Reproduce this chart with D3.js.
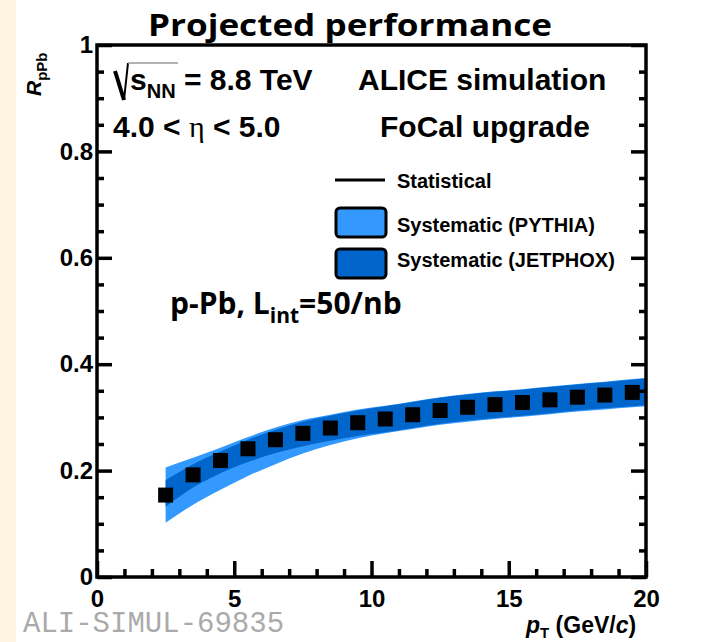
<!DOCTYPE html>
<html>
<head>
<meta charset="utf-8">
<script src="https://cdn.jsdelivr.net/npm/d3@7"></script>
<style>
  body { margin: 0; background: #fff; }
  svg { display: block; }
  .tick text { font-family: "Liberation Sans", Arial, sans-serif; font-weight: bold; font-size: 24px; fill: #000; }
  .tick line { stroke: #000; stroke-width: 3.5; }
</style>
</head>
<body>
<svg width="702" height="642"></svg>
<script>
// values
var ptBins = [2.5, 3.5, 4.5, 5.5, 6.5, 7.5, 8.5, 9.5, 10.5, 11.5, 12.5, 13.5, 14.5, 15.5, 16.5, 17.5, 18.5, 19.5];
var rpPb = [0.154, 0.192, 0.219, 0.241, 0.258, 0.270, 0.280, 0.290, 0.297, 0.305, 0.313, 0.319, 0.324, 0.328, 0.333, 0.338, 0.342, 0.347];

// systematic bands (band runs on to the edge of the plot at 20)
var bandPt = [2.5, 3.5, 4.5, 5.5, 6.5, 7.5, 8.5, 9.5, 10.5, 11.5, 12.5, 13.5, 14.5, 15.5, 16.5, 17.5, 18.5, 19.5, 20];
var pythiaLow  = [0.102, 0.136, 0.164, 0.190, 0.212, 0.232, 0.248, 0.261, 0.270, 0.278, 0.286, 0.292, 0.297, 0.301, 0.306, 0.311, 0.315, 0.319, 0.321];
var pythiaHigh = [0.206, 0.224, 0.243, 0.263, 0.281, 0.295, 0.305, 0.315, 0.322, 0.330, 0.338, 0.344, 0.349, 0.353, 0.358, 0.363, 0.367, 0.372, 0.374];
var jetphoxLow  = [0.132, 0.168, 0.195, 0.216, 0.233, 0.246, 0.256, 0.265, 0.272, 0.280, 0.288, 0.294, 0.299, 0.303, 0.308, 0.313, 0.317, 0.321, 0.323];
var jetphoxHigh = [0.182, 0.212, 0.236, 0.258, 0.277, 0.292, 0.303, 0.313, 0.321, 0.329, 0.337, 0.343, 0.348, 0.352, 0.357, 0.362, 0.366, 0.371, 0.373];

var xMajor = [0, 5, 10, 15, 20];
var yMajor = [0, 0.2, 0.4, 0.6, 0.8, 1];

var legendItems = ['Statistical', 'Systematic (PYTHIA)', 'Systematic (JETPHOX)'];

var width = 702;
var height = 642;
var plotLeft = 97, plotRight = 646, plotTop = 45, plotBottom = 577;
var helv = '"Liberation Sans", Arial, sans-serif';

var xScale = d3.scaleLinear().domain([0, 20]).range([plotLeft, plotRight]);
var yScale = d3.scaleLinear().domain([0, 1]).range([plotBottom, plotTop]);

var svg = d3.select('svg');

// beige strip on the left of the slide
svg.append('rect')
  .attr('x', 0).attr('y', 0)
  .attr('width', 16).attr('height', height)
  .attr('fill', '#fdf5e1');

// bands
var pythiaArea = d3.area()
  .x((d, i) => xScale(bandPt[i]))
  .y0((d, i) => yScale(pythiaLow[i]))
  .y1((d, i) => yScale(pythiaHigh[i]))
  .curve(d3.curveMonotoneX);

var jetphoxArea = d3.area()
  .x((d, i) => xScale(bandPt[i]))
  .y0((d, i) => yScale(jetphoxLow[i]))
  .y1((d, i) => yScale(jetphoxHigh[i]))
  .curve(d3.curveMonotoneX);

svg.append('path')
  .attr('d', pythiaArea(bandPt))
  .attr('fill', '#3399ff');

svg.append('path')
  .attr('d', jetphoxArea(bandPt))
  .attr('fill', '#0066cc');

// points
svg.append('g')
  .selectAll('rect')
  .data(ptBins)
  .enter()
  .append('rect')
    .attr('x', (d) => xScale(d) - 7.5)
    .attr('y', (d, i) => yScale(rpPb[i]) - 7.5)
    .attr('width', 15)
    .attr('height', 15)
    .attr('fill', '#000');

// axes (ticks pointing inward)
var xMinor = d3.range(0, 21, 1).filter(d => xMajor.indexOf(d) < 0);
var yMinor = d3.range(0, 1.0001, 0.05).map(d => +d.toFixed(2)).filter(d => yMajor.indexOf(d) < 0);

svg.append('g')
  .attr('transform', 'translate(0,' + plotBottom + ')')
  .call(d3.axisBottom(xScale).tickValues(xMajor).tickSize(-16).tickPadding(13).tickFormat(d3.format('d')));
svg.append('g')
  .attr('transform', 'translate(0,' + plotBottom + ')')
  .call(d3.axisBottom(xScale).tickValues(xMinor).tickSize(-8).tickFormat(''));

svg.append('g')
  .attr('transform', 'translate(' + plotLeft + ',0)')
  .call(d3.axisLeft(yScale).tickValues(yMajor).tickSize(-15).tickPadding(4).tickFormat(d3.format('')));
svg.append('g')
  .attr('transform', 'translate(' + plotLeft + ',0)')
  .call(d3.axisLeft(yScale).tickValues(yMinor).tickSize(-7).tickFormat(''));

svg.append('g')
  .attr('transform', 'translate(' + plotRight + ',0)')
  .call(d3.axisRight(yScale).tickValues(yMajor).tickSize(-15).tickFormat(''));
svg.append('g')
  .attr('transform', 'translate(' + plotRight + ',0)')
  .call(d3.axisRight(yScale).tickValues(yMinor).tickSize(-7).tickFormat(''));

svg.selectAll('.domain').remove();

svg.append('rect')
  .attr('x', plotLeft).attr('y', plotTop)
  .attr('width', plotRight - plotLeft).attr('height', plotBottom - plotTop)
  .attr('fill', 'none')
  .attr('stroke', '#000')
  .attr('stroke-width', 3.5);

// title
svg.append('text')
  .attr('x', 350)
  .attr('y', 36)
  .attr('text-anchor', 'middle')
  .style('font-family', '"Open Sans", sans-serif')
  .style('font-weight', 'bold')
  .style('font-size', '31px')
  .attr('textLength', 404)
  .attr('lengthAdjust', 'spacingAndGlyphs')
  .text('Projected performance');

// sqrt(s_NN) label
svg.append('path')
  .attr('d', 'M115,71 L124,100')
  .attr('stroke', '#000').attr('stroke-width', 4).attr('fill', 'none');
svg.append('path')
  .attr('d', 'M124,100 L128,63')
  .attr('stroke', '#000').attr('stroke-width', 2).attr('fill', 'none');
svg.append('path')
  .attr('d', 'M128,63 L178,63')
  .attr('stroke', '#999').attr('stroke-width', 1.5).attr('fill', 'none');

var t1 = svg.append('text')
  .attr('x', 130).attr('y', 90)
  .style('font-family', helv).style('font-weight', 'bold').style('font-size', '30px');
t1.append('tspan').text('s');
t1.append('tspan').attr('dy', 8).style('font-size', '20px').text('NN');
t1.append('tspan').attr('dy', -8).text(' = 8.8 TeV');

svg.append('text')
  .attr('x', 358).attr('y', 90)
  .style('font-family', helv).style('font-weight', 'bold').style('font-size', '30px')
  .text('ALICE simulation');

var t2 = svg.append('text')
  .attr('x', 113).attr('y', 137)
  .style('font-family', helv).style('font-weight', 'bold').style('font-size', '30px');
t2.append('tspan').text('4.0 < ');
t2.append('tspan').style('font-family', '"Liberation Serif", serif').style('font-weight', 'normal').text('η');
t2.append('tspan').text(' < 5.0');

svg.append('text')
  .attr('x', 380).attr('y', 137)
  .style('font-family', helv).style('font-weight', 'bold').style('font-size', '30px')
  .text('FoCal upgrade');

// legend
var legend = svg.append('g');
legend.append('line')
  .attr('x1', 335).attr('x2', 385)
  .attr('y1', 180).attr('y2', 180)
  .attr('stroke', '#000').attr('stroke-width', 3);
legend.append('rect')
  .attr('x', 336).attr('y', 208).attr('width', 50).attr('height', 29).attr('rx', 4)
  .attr('fill', '#3399ff').attr('stroke', '#000').attr('stroke-width', 3);
legend.append('rect')
  .attr('x', 336).attr('y', 249).attr('width', 50).attr('height', 29).attr('rx', 4)
  .attr('fill', '#0066cc').attr('stroke', '#000').attr('stroke-width', 3);
legend.selectAll('text')
  .data(legendItems)
  .enter()
  .append('text')
    .attr('x', 397)
    .attr('y', (d, i) => [188, 232, 267][i])
    .style('font-family', helv).style('font-weight', 'bold').style('font-size', '20px')
    .text(d => d);

// collision system label
var t3 = svg.append('text')
  .attr('x', 170).attr('y', 314)
  .style('font-family', '"Open Sans", sans-serif').style('font-weight', 'bold').style('font-size', '30px');
t3.append('tspan').text('p-Pb, L');
t3.append('tspan').attr('dy', 9).style('font-size', '21px').text('int');
t3.append('tspan').attr('dy', -9).text('=50/nb');

// axis titles
var xt = svg.append('text')
  .attr('x', 526).attr('y', 633)
  .style('font-family', helv).style('font-weight', 'bold').style('font-size', '23px');
xt.append('tspan').style('font-style', 'italic').text('p');
xt.append('tspan').attr('dy', 5).style('font-size', '15px').text('T');
xt.append('tspan').attr('dy', -5).text(' (GeV/');
xt.append('tspan').style('font-style', 'italic').text('c');
xt.append('tspan').text(')');

var yt = svg.append('text')
  .attr('transform', 'translate(41,96) rotate(-90)')
  .style('font-family', helv).style('font-weight', 'bold').style('font-size', '21px');
yt.append('tspan').style('font-style', 'italic').text('R');
yt.append('tspan').attr('dy', 6).style('font-size', '15px').text('pPb');

// figure id
svg.append('text')
  .attr('x', 23).attr('y', 632)
  .style('font-family', '"Liberation Mono", monospace')
  .style('font-size', '29px')
  .attr('fill', '#aaaaaa')
  .text('ALI-SIMUL-69835');
</script>
</body>
</html>
